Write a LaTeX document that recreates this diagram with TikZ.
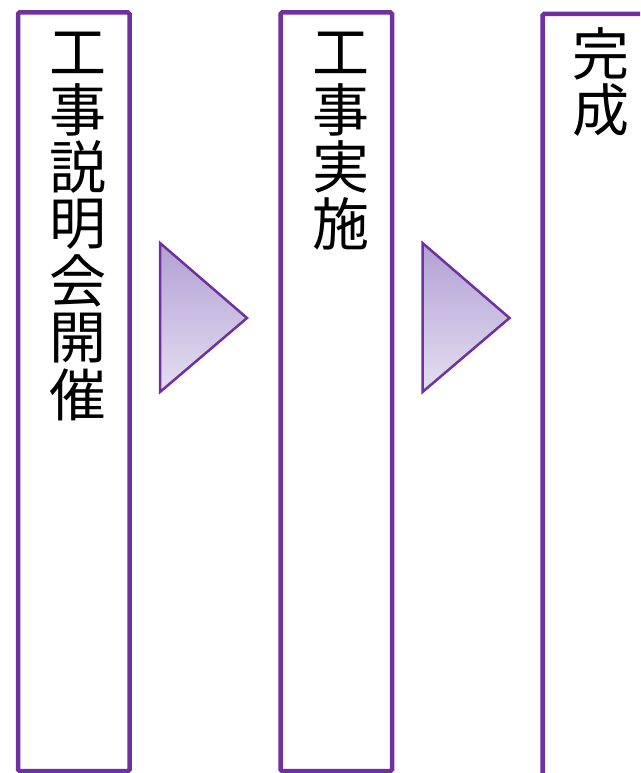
\documentclass[tikz,border=0pt]{standalone}
\usepackage{fontspec}
\newfontfamily\cjk{Noto Sans CJK JP}
\definecolor{boxpurple}{HTML}{7030A0}
\definecolor{gradtop}{HTML}{B1A0D4}
\definecolor{gradbot}{HTML}{E4DFF1}
\begin{document}
\begin{tikzpicture}[x=1pt,y=-1pt,
  stagebox/.style={draw=boxpurple, line width=4.5pt, fill=white, rounded corners=1.5pt,
    minimum width=111.5pt, minimum height=758.5pt, anchor=north west, inner sep=0pt, outer sep=0pt},
  stagechar/.style={font=\cjk\fontsize{57}{57}\selectfont, inner sep=0pt, text=black},
  flowarrow/.style={draw=boxpurple, line width=2.5pt, line join=miter, top color=gradtop, bottom color=gradbot}]
\useasboundingbox (0,0) rectangle (640,773);
\begin{scope}
\clip (0,0) rectangle (640,773);
\node[stagebox] (box1) at (18,12.5) {};
\node[stagebox] (box2) at (280.5,12.5) {};
\node[stagebox, minimum height=800pt] (box3) at (542.5,14) {};
\end{scope}
% column 1
\foreach \c [count=\i from 0] in {工,事,説,明,会,開,催} {
  \node[stagechar] (a\i) at (78,53+57*\i) {\c};
}
% column 2
\foreach \c [count=\i from 0] in {工,事,実,施} {
  \node[stagechar] (b\i) at (341,53+57*\i) {\c};
}
% column 3
\node[stagechar] (c0) at (601,54) {完};
\node[stagechar] (c1) at (601,110) {成};
% arrows
\shade[flowarrow] (160,243) -- (247,318) -- (160,392) -- cycle;
\shade[flowarrow] (422.5,243) -- (509.5,318) -- (422.5,392) -- cycle;
\end{tikzpicture}
\end{document}
